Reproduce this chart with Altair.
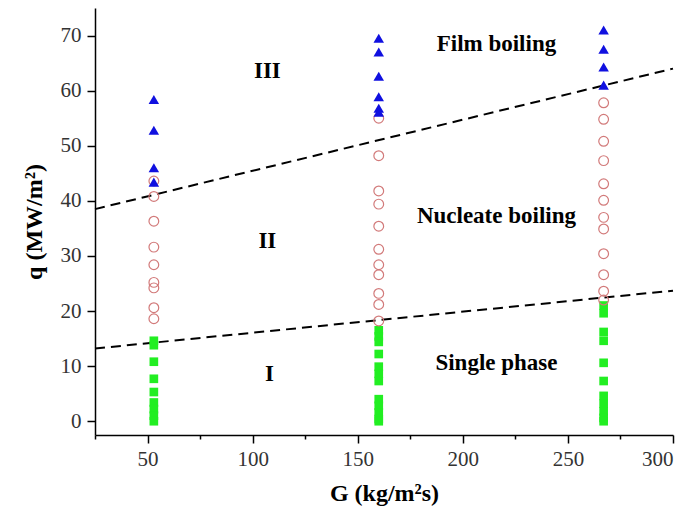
import altair as alt
import pandas as pd

# ---- data ----
G_values = [53, 160, 267]

single_53 = [14.6, 13.8, 10.8, 7.7, 5.3, 3.4, 2.2, 1.0, 0.0]
single_160 = [16.5, 15.4, 14.4, 12.2, 9.9, 8.6, 7.3, 4.0, 2.8, 1.6, 0.4, 0.0]
single_267 = [21.0, 19.6, 16.2, 14.6, 10.6, 7.3, 4.6, 3.2, 1.8, 0.6, 0.0]

nucleate_53 = [43.6, 40.8, 36.3, 31.6, 28.4, 25.2, 24.2, 20.6, 18.6]
nucleate_160 = [55.0, 48.2, 41.8, 39.4, 35.4, 31.2, 28.4, 26.6, 23.2, 21.2, 18.2]
nucleate_267 = [57.8, 54.8, 50.8, 47.3, 43.1, 40.1, 37.0, 34.9, 30.4, 26.6, 23.6, 22.0]

film_53 = [58.4, 52.8, 46.0, 43.4]
film_160 = [69.5, 67.0, 62.6, 58.9, 56.8, 56.1]
film_267 = [71.0, 67.5, 64.3, 61.0]

boundary_G = [25, 300]
upper_boundary_q = [38.5, 64.0]
lower_boundary_q = [13.2, 23.7]

label_text = ["III", "II", "I", "Film boiling", "Nucleate boiling", "Single phase"]
label_G = [107, 107, 108, 216, 216, 216]
label_q = [63.6, 32.8, 8.6, 68.4, 37.2, 10.6]


def frame(groups):
    rows = []
    for g, qs in zip(G_values, groups):
        for q in qs:
            rows.append({"G": g, "q": q})
    return pd.DataFrame(rows)


single_df = frame([single_53, single_160, single_267])
nucleate_df = frame([nucleate_53, nucleate_160, nucleate_267])
film_df = frame([film_53, film_160, film_267])
upper_df = pd.DataFrame({"G": boundary_G, "q": upper_boundary_q})
lower_df = pd.DataFrame({"G": boundary_G, "q": lower_boundary_q})
labels_df = pd.DataFrame({"G": label_G, "q": label_q, "t": label_text})

FONT = "Liberation Serif"

x_scale = alt.Scale(domain=[25, 300], nice=False, zero=False)
y_scale = alt.Scale(domain=[-2.5, 75], nice=False, zero=False)

x_axis = alt.Axis(
    values=list(range(25, 301, 25)),
    labelExpr="datum.value % 50 === 0 ? datum.label : ''",
    tickSize={"condition": {"test": "datum.value % 50 === 0", "value": 8}, "value": 4},
    title="G (kg/m²s)",
    grid=False,
    labelPadding=5,
    titlePadding=12,
)
y_axis = alt.Axis(
    values=list(range(0, 76, 5)),
    labelExpr="datum.value % 10 === 0 ? datum.label : ''",
    tickSize={"condition": {"test": "datum.value % 10 === 0", "value": 8}, "value": 4},
    title="q (MW/m²)",
    grid=False,
    labelPadding=6,
    titlePadding=14,
)

X = alt.X("G:Q", scale=x_scale, axis=x_axis)
Y = alt.Y("q:Q", scale=y_scale, axis=y_axis)

upper_line = alt.Chart(upper_df).mark_line(
    color="black", strokeDash=[10, 6], strokeWidth=2
).encode(x=X, y=Y)
lower_line = alt.Chart(lower_df).mark_line(
    color="black", strokeDash=[10, 6], strokeWidth=2
).encode(x="G:Q", y="q:Q")

squares = alt.Chart(single_df).mark_point(
    shape="square", filled=True, size=75, color="#22ee22", opacity=1
).encode(x="G:Q", y="q:Q")

circles = alt.Chart(nucleate_df).mark_point(
    shape="circle", filled=False, size=95, color="#d27a7a", strokeWidth=1.2, opacity=1
).encode(x="G:Q", y="q:Q")

triangles = alt.Chart(film_df).mark_point(
    shape="triangle-up", filled=True, size=110, color="#1010e0", opacity=1
).encode(x="G:Q", y="q:Q")

texts = alt.Chart(labels_df).mark_text(
    font=FONT, fontWeight="bold", fontSize=23, color="black"
).encode(x="G:Q", y="q:Q", text="t:N")

chart = alt.layer(
    upper_line, lower_line, squares, circles, triangles, texts
).properties(
    width=578,
    height=427,
    autosize=alt.AutoSizeParams(type="none"),
    padding={"left": 87, "top": 0, "right": 12, "bottom": 80},
    background="white",
).configure_view(
    stroke=None
).configure_axis(
    domainColor="black",
    domainWidth=1.5,
    tickColor="black",
    tickWidth=1.5,
    labelFont=FONT,
    labelFontSize=21,
    labelColor="#333333",
    titleFont=FONT,
    titleFontSize=24,
    titleFontWeight="bold",
    titleColor="black",
)

chart.save("out.html", embed_options={"renderer": "svg", "actions": False})
